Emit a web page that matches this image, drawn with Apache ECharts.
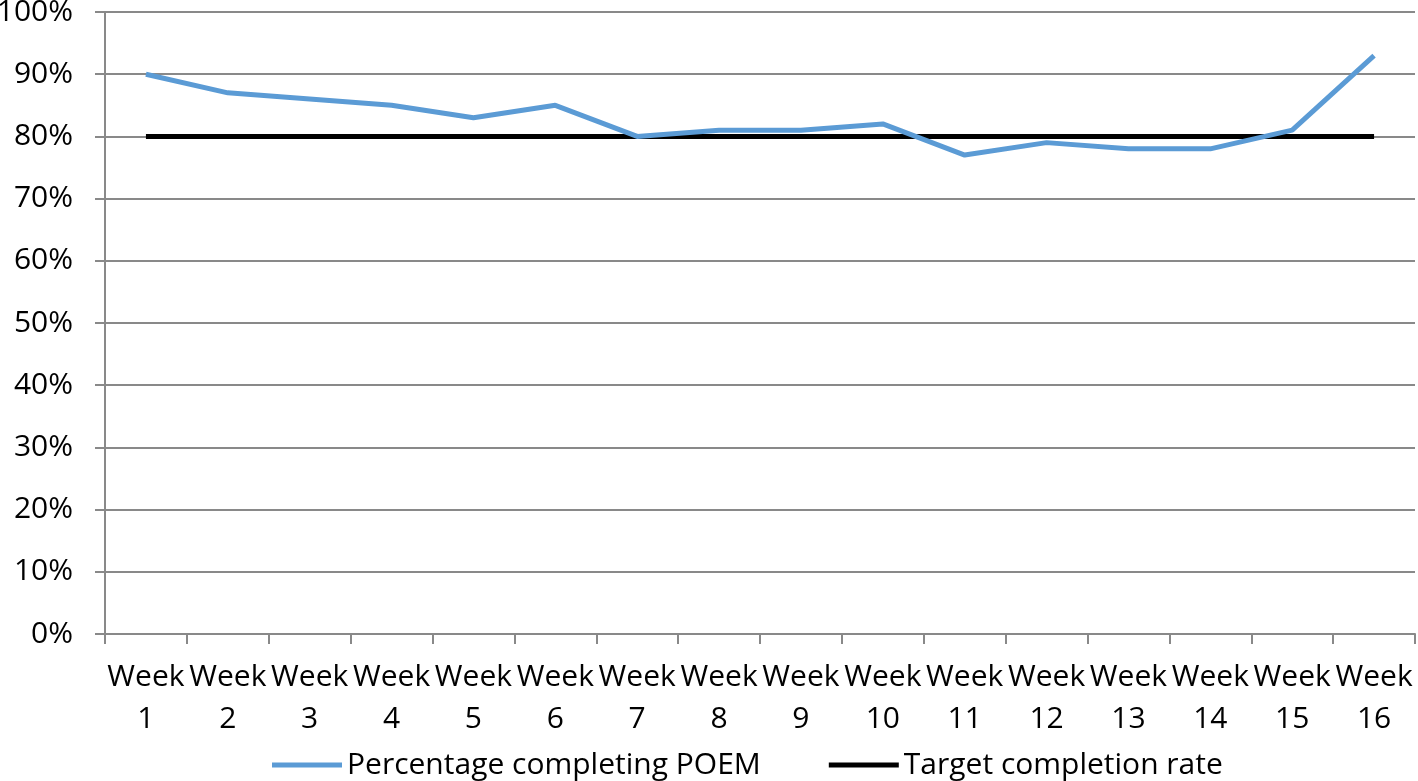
<!DOCTYPE html>
<html><head><meta charset="utf-8">
<script src="https://cdn.jsdelivr.net/npm/echarts@6/dist/echarts.min.js"></script>
<style>html,body{margin:0;padding:0;background:#fff}#c{width:1418px;height:781px}</style>
</head><body><div id="c"></div>
<script>
const categories = ['Week\n1','Week\n2','Week\n3','Week\n4','Week\n5','Week\n6','Week\n7','Week\n8','Week\n9','Week\n10','Week\n11','Week\n12','Week\n13','Week\n14','Week\n15','Week\n16'];
const poem = [90,87,86,85,83,85,80,81,81,82,77,79,78,78,81,93];
const target = [80,80,80,80,80,80,80,80,80,80,80,80,80,80,80,80];
const seriesNames = ['Percentage completing POEM','Target completion rate'];
const font = '"Open Sans", sans-serif';
const chart = echarts.init(document.getElementById('c'));
chart.setOption({
  animation:false,
  grid:{left:105,right:3,top:12,bottom:147,containLabel:false,outerBoundsMode:'none'},
  legend:{top:750,left:272,itemWidth:70,itemHeight:5,itemGap:68,icon:'rect',padding:0,
    textStyle:{fontFamily:font,fontSize:30,color:'#000'},
    data:seriesNames},
  xAxis:{type:'category',data:categories,boundaryGap:true,
    axisLine:{lineStyle:{color:'#898989',width:2}},
    axisTick:{show:true,length:10,lineStyle:{color:'#898989',width:2}},
    axisLabel:{interval:0,fontFamily:font,fontSize:30,color:'#000',lineHeight:42,margin:22}},
  yAxis:{type:'value',min:0,max:100,interval:10,
    axisLine:{show:true,lineStyle:{color:'#898989',width:2}},
    axisTick:{show:true,length:10,lineStyle:{color:'#898989',width:2}},
    splitLine:{lineStyle:{color:'#898989',width:2}},
    axisLabel:{formatter:'{value}%',fontFamily:font,fontSize:30,color:'#000',margin:32}},
  series:[
    {name:seriesNames[0],type:'line',data:poem,symbol:'none',lineStyle:{color:'#5B9BD5',width:5},itemStyle:{color:'#5B9BD5'},z:3},
    {name:seriesNames[1],type:'line',data:target,symbol:'none',lineStyle:{color:'#000',width:5},itemStyle:{color:'#000'},z:2}
  ]
});
</script></body></html>
